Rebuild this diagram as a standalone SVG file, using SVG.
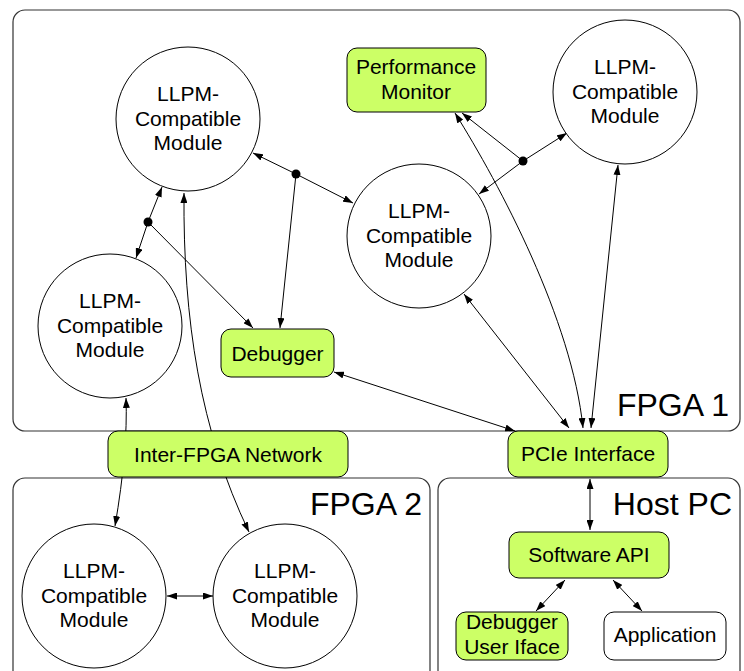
<svg xmlns="http://www.w3.org/2000/svg" width="744" height="671" viewBox="0 0 744 671">
<defs>
<style>
.cont{fill:#fff;stroke:#333;stroke-width:1.2}
.box{fill:#ccff66;stroke:#000;stroke-width:1}
.wbox{fill:#fff;stroke:#000;stroke-width:1}
.mod{fill:#fff;stroke:#000;stroke-width:1}
.t{font-family:"Liberation Sans",Arial,Helvetica,sans-serif;font-size:21px;fill:#000;text-anchor:middle}
.big{font-family:"Liberation Sans",Arial,Helvetica,sans-serif;font-size:32px;fill:#000;text-anchor:end}
.c{fill:none;stroke:#000;stroke-width:1}
.one{marker-end:url(#ah)}
.two{marker-start:url(#ah);marker-end:url(#ah)}
</style>
<marker id="ah" viewBox="0 0 10 7" refX="10" refY="3.5" markerWidth="10" markerHeight="7" markerUnits="userSpaceOnUse" orient="auto-start-reverse"><path d="M0,0 L10,3.5 L0,7z" fill="#000"/></marker>
</defs>
<g id="containers">
<rect class="cont" x="13" y="10" width="727" height="421" rx="12"/>
<text class="big" x="729" y="416">FPGA 1</text>
<rect class="cont" x="13" y="478" width="417" height="210" rx="12"/>
<text class="big" x="422" y="515">FPGA 2</text>
<rect class="cont" x="438" y="478" width="302" height="210" rx="12"/>
<text class="big" x="732" y="515">Host PC</text>
</g>
<g id="connectors">
<line class="c one" x1="296" y1="174" x2="253" y2="153"/>
<line class="c one" x1="296" y1="174" x2="353" y2="203"/>
<line class="c one" x1="296" y1="174" x2="280" y2="328"/>
<circle cx="296" cy="174" r="4.5" fill="#000"/>
<line class="c one" x1="148" y1="222" x2="162" y2="187"/>
<line class="c one" x1="148" y1="222" x2="136" y2="258"/>
<line class="c one" x1="148" y1="222" x2="253" y2="328"/>
<circle cx="148" cy="222" r="4.5" fill="#000"/>
<path class="c two" d="M126,398 Q128,450 115,526"/>
<path class="c two" d="M184,193 C183,320 200,430 249,532"/>
<line class="c two" x1="167" y1="596" x2="213" y2="596"/>
<line class="c two" x1="334" y1="372" x2="515" y2="431"/>
<line class="c two" x1="464" y1="294" x2="569" y2="428"/>
<path class="c two" d="M455,113 C500,185 572,320 583,428"/>
<line class="c one" x1="523" y1="161" x2="462" y2="113"/>
<line class="c one" x1="523" y1="161" x2="567" y2="133"/>
<line class="c one" x1="523" y1="161" x2="479" y2="194"/>
<circle cx="523" cy="161" r="4.5" fill="#000"/>
<line class="c two" x1="618" y1="165" x2="591" y2="428"/>
<line class="c two" x1="590" y1="479" x2="590" y2="530"/>
<line class="c two" x1="565" y1="580" x2="536" y2="611"/>
<line class="c two" x1="613" y1="580" x2="642" y2="611"/>
</g>
<g id="modA"><circle class="mod" cx="188" cy="119" r="72"/><text class="t"><tspan x="188" y="101">LLPM-</tspan><tspan x="188" y="126">Compatible</tspan><tspan x="188" y="150">Module</tspan></text></g>
<g id="modB"><circle class="mod" cx="625" cy="92" r="72"/><text class="t"><tspan x="625" y="74">LLPM-</tspan><tspan x="625" y="99">Compatible</tspan><tspan x="625" y="123">Module</tspan></text></g>
<g id="modC"><circle class="mod" cx="419" cy="236" r="72"/><text class="t"><tspan x="419" y="218">LLPM-</tspan><tspan x="419" y="243">Compatible</tspan><tspan x="419" y="267">Module</tspan></text></g>
<g id="modD"><circle class="mod" cx="110" cy="326" r="72"/><text class="t"><tspan x="110" y="308">LLPM-</tspan><tspan x="110" y="333">Compatible</tspan><tspan x="110" y="357">Module</tspan></text></g>
<g id="modE"><circle class="mod" cx="94" cy="596" r="72"/><text class="t"><tspan x="94" y="578">LLPM-</tspan><tspan x="94" y="603">Compatible</tspan><tspan x="94" y="627">Module</tspan></text></g>
<g id="modF"><circle class="mod" cx="285" cy="596" r="72"/><text class="t"><tspan x="285" y="578">LLPM-</tspan><tspan x="285" y="603">Compatible</tspan><tspan x="285" y="627">Module</tspan></text></g>
<g id="perfmon"><rect class="box" x="347" y="48" width="139" height="64" rx="10"/><text class="t"><tspan x="416" y="74">Performance</tspan><tspan x="416" y="99">Monitor</tspan></text></g>
<g id="debugger"><rect class="box" x="221" y="329" width="113" height="48" rx="10"/><text class="t" x="277.5" y="361">Debugger</text></g>
<g id="interfpga"><rect class="box" x="108" y="431" width="240" height="46" rx="10"/><text class="t" x="228" y="462">Inter-FPGA Network</text></g>
<g id="pcie"><rect class="box" x="508" y="431" width="160" height="46" rx="10"/><text class="t" x="588" y="461">PCIe Interface</text></g>
<g id="swapi"><rect class="box" x="509" y="532" width="160" height="46" rx="10"/><text class="t" x="589" y="562">Software API</text></g>
<g id="dbgui"><rect class="box" x="456" y="612" width="112" height="48" rx="10"/><text class="t"><tspan x="512" y="629">Debugger</tspan><tspan x="512" y="654">User Iface</tspan></text></g>
<g id="app"><rect class="wbox" x="604" y="612" width="122" height="48" rx="10"/><text class="t" x="665" y="642">Application</text></g>
</svg>
